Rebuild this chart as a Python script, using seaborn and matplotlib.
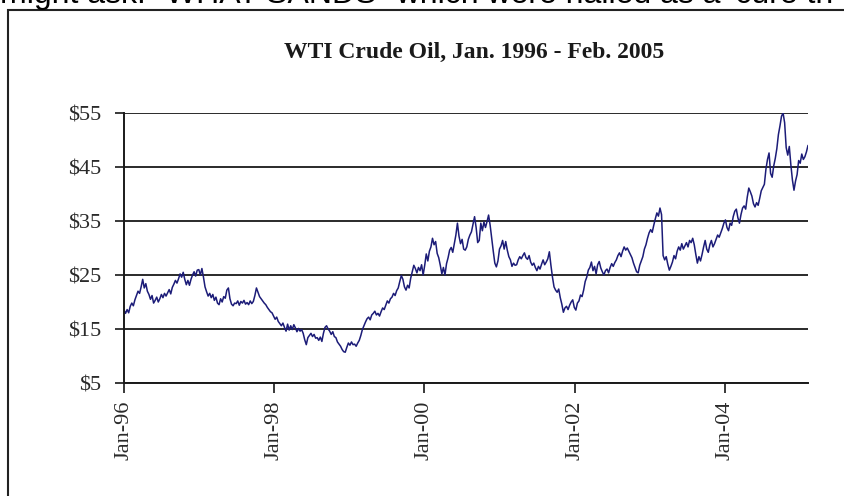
import pandas as pd
import seaborn as sns
import matplotlib.pyplot as plt
import matplotlib.dates as mdates
from matplotlib.patches import Rectangle

# WTI spot price ($/bbl), ~4 readings per month
wti_1996 = [18.5, 17.9, 18.6, 18.0, 19.2, 19.8, 19.3, 20.4, 21.2, 22.0, 21.6, 22.8,
            24.2, 22.6, 23.4, 22.0, 21.4, 20.5, 21.2, 19.8, 20.3, 20.9, 20.0, 20.6,
            21.4, 20.8, 21.6, 21.1, 21.7, 22.3, 21.5, 22.7, 23.3, 24.0, 23.5, 24.3,
            25.2, 24.6, 25.5, 24.2, 23.2, 24.0, 23.1, 24.2, 25.0, 25.6, 24.8, 25.9]
wti_1997 = [26.0, 25.0, 26.2, 24.6, 22.8, 21.9, 21.1, 21.6, 20.8, 21.4, 20.3, 20.9,
            19.8, 19.5, 20.6, 20.0, 21.0, 20.7, 22.2, 22.6, 20.6, 19.6, 19.3, 19.8,
            19.7, 20.2, 19.4, 20.1, 19.8, 20.3, 19.6, 19.9, 19.5, 20.2, 19.7, 20.1,
            21.2, 22.6, 21.8, 21.0, 20.6, 20.2, 19.8, 19.5, 19.0, 18.6, 18.2, 18.0]
wti_1998 = [17.4, 16.8, 17.2, 16.4, 16.0, 15.6, 16.1, 15.3, 14.6, 15.9, 14.8, 15.6,
            14.9, 15.8, 15.2, 14.5, 15.1, 14.6, 14.9, 14.2, 13.0, 12.1, 13.4, 13.8,
            14.2, 13.6, 14.0, 13.3, 13.4, 12.9, 13.5, 12.7, 14.2, 15.3, 15.6, 15.0,
            14.6, 14.0, 14.5, 13.6, 13.4, 12.6, 12.2, 11.8, 11.2, 10.8, 10.7, 11.6]
wti_1999 = [12.4, 12.0, 12.6, 12.1, 12.2, 11.8, 12.4, 12.9, 13.8, 14.9, 15.6, 16.3,
            16.9, 17.2, 16.7, 17.6, 17.9, 18.3, 17.6, 17.9, 17.4, 18.2, 18.9, 18.6,
            19.4, 20.2, 19.8, 20.6, 20.9, 21.6, 21.2, 22.1, 22.6, 23.8, 24.9, 24.2,
            22.8, 22.2, 23.1, 22.6, 24.4, 25.6, 26.8, 26.2, 25.4, 26.4, 25.8, 26.9]
wti_2000 = [25.0, 26.8, 28.9, 27.6, 29.4, 30.2, 31.8, 30.6, 31.2, 29.0, 28.2, 26.8,
            25.2, 26.4, 25.0, 27.1, 28.2, 29.6, 30.1, 29.2, 30.8, 32.4, 34.6, 32.2,
            30.8, 31.6, 29.8, 29.6, 30.2, 31.6, 32.4, 33.0, 34.4, 35.8, 33.8, 31.0,
            31.4, 34.6, 33.2, 34.8, 33.8, 34.9, 36.1, 34.2, 31.8, 29.4, 27.2, 26.5]
wti_2001 = [27.6, 29.8, 30.4, 31.4, 29.8, 31.2, 29.6, 28.4, 27.8, 26.6, 27.2, 26.8,
            26.9, 27.8, 28.4, 28.0, 28.6, 29.1, 28.2, 27.9, 28.6, 27.4, 26.8, 27.2,
            26.4, 25.8, 26.6, 26.1, 27.0, 27.8, 26.9, 27.4, 28.0, 29.3, 26.8, 24.6,
            22.8, 22.2, 21.8, 22.4, 20.8, 19.6, 18.1, 18.9, 19.2, 18.6, 19.4, 20.0]
wti_2002 = [20.4, 19.0, 18.5, 19.8, 20.2, 21.3, 21.0, 22.2, 23.8, 24.6, 25.9, 26.4,
            27.4, 25.8, 26.6, 25.2, 26.9, 27.5, 26.3, 25.6, 25.0, 25.8, 26.1, 25.4,
            26.4, 27.1, 26.6, 27.3, 27.8, 28.6, 29.1, 28.4, 29.4, 30.2, 29.6, 30.0,
            29.4, 28.8, 28.2, 27.2, 26.4, 25.6, 25.4, 26.8, 27.6, 28.4, 29.8, 30.6]
wti_2003 = [31.8, 32.8, 33.4, 32.9, 34.2, 35.4, 36.5, 35.9, 37.4, 36.2, 28.6, 27.8,
            28.4, 27.0, 25.9, 26.6, 27.4, 28.6, 28.0, 29.4, 30.2, 29.6, 30.8, 29.8,
            30.4, 31.0, 30.2, 31.4, 31.0, 31.8, 30.6, 28.8, 27.2, 28.4, 27.6, 28.8,
            30.2, 31.4, 29.8, 29.2, 30.6, 31.4, 30.2, 30.8, 31.6, 32.4, 32.0, 32.8]
wti_2004 = [33.6, 34.6, 35.2, 33.8, 33.2, 34.6, 34.2, 35.8, 36.8, 37.2, 35.6, 34.6,
            36.2, 37.4, 37.8, 37.2, 39.4, 41.1, 40.4, 39.6, 38.2, 37.6, 38.4, 37.9,
            39.2, 40.6, 41.2, 41.8, 44.6, 46.4, 47.6, 43.8, 43.1, 45.2, 46.6, 48.4,
            51.0, 52.6, 54.4, 55.0, 53.2, 48.6, 47.2, 48.8, 45.4, 42.6, 40.7, 42.4]
wti_2005 = [43.6, 46.2, 45.7, 47.4, 46.4, 46.9, 47.8, 49.0]

prices = (wti_1996 + wti_1997 + wti_1998 + wti_1999 + wti_2000
          + wti_2001 + wti_2002 + wti_2003 + wti_2004 + wti_2005)
dates = pd.date_range("1996-01-01", "2005-02-10", periods=len(prices))
df = pd.DataFrame({"Date": dates, "Price": prices})

tick_dates = ["1996-01-01", "1998-01-01", "2000-01-01", "2002-01-01", "2004-01-01"]
y_ticks = [5, 15, 25, 35, 45, 55]
title = "WTI Crude Oil, Jan. 1996 - Feb. 2005"
header_text = 'might ask: "WHAT SANDS" which were hailed as a \'cure th'

sns.set_theme(style="white")
plt.rcParams["font.family"] = ["Liberation Serif", "DejaVu Serif"]

fig = plt.figure(figsize=(8.45, 4.96), dpi=100)
ax = fig.add_axes([124 / 845, 113 / 496, 684 / 845, 270 / 496])

sns.lineplot(data=df, x="Date", y="Price", ax=ax, color="#1c1c78", linewidth=1.1)

ax.set_ylim(5, 55)
ax.set_xlim(dates[0], dates[-1])
ax.set_yticks(y_ticks)
ax.set_yticklabels([f"${v}" for v in y_ticks])
ax.set_xticks(pd.to_datetime(tick_dates))
ax.xaxis.set_major_formatter(mdates.DateFormatter("%b-%y"))
ax.set_xlabel("")
ax.set_ylabel("")

ax.tick_params(axis="x", bottom=True, rotation=90, length=7, width=1.3,
               pad=6, labelsize=16, colors="#2a2a2a")
ax.tick_params(axis="y", left=True, length=6.5, width=1.3,
               pad=10, labelsize=16, colors="#2a2a2a")

ax.yaxis.grid(True, color="#2a2a2a", linewidth=1.4)
ax.xaxis.grid(False)
for side in ["top", "right"]:
    ax.spines[side].set_visible(False)
for side in ["left", "bottom"]:
    ax.spines[side].set_color("#1a1a1a")
    ax.spines[side].set_linewidth(1.4)

fig.text(474 / 845, 1 - 52 / 496, title, ha="center", va="center",
         fontsize=17, fontweight="bold", color="#1a1a1a")

# bit of the surrounding page text, cut off at the top as in the screenshot
fig.text(0.0, 1 - 3 / 496, header_text, ha="left", va="baseline",
         fontsize=23, family=["Liberation Sans", "DejaVu Sans"], color="black")

# frame around the chart (runs off the right and bottom edges)
frame = Rectangle((8 / 845, -0.05), 1.2, 1.05 - 10 / 496, transform=fig.transFigure,
                  fill=False, edgecolor="#222222", linewidth=1.5)
fig.add_artist(frame)

fig.savefig("out.png", dpi=100)
